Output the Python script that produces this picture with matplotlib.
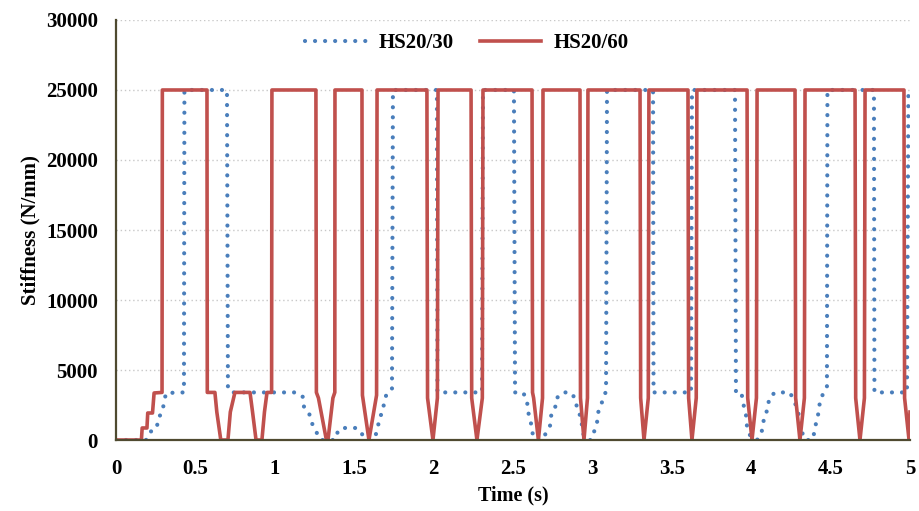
import matplotlib.pyplot as plt

# HS20/30 (dotted blue) - time (s), stiffness (N/mm)
t_30 = [0.0, 0.189, 0.214, 0.258, 0.264, 0.29, 0.302, 0.315, 0.428, 0.431,
        0.699, 0.705, 0.735, 1.14, 1.178, 1.184, 1.215, 1.228, 1.253, 1.272,
        1.29, 1.379, 1.398, 1.417, 1.518, 1.549, 1.574, 1.606, 1.631, 1.65,
        1.656, 1.681, 1.688, 1.706, 1.738, 1.744, 2.021, 2.024, 2.305, 2.311,
        2.506, 2.513, 2.563, 2.588, 2.594, 2.607, 2.62, 2.626, 2.657, 2.683,
        2.708, 2.733, 2.739, 2.765, 2.771, 2.809, 2.865, 2.897, 2.903, 2.929,
        2.935, 2.947, 2.972, 2.991, 3.01, 3.029, 3.035, 3.054, 3.086, 3.092,
        3.382, 3.385, 3.621, 3.627, 3.898, 3.904, 3.936, 3.948, 3.955, 3.967,
        3.974, 3.992, 4.018, 4.037, 4.062, 4.075, 4.081, 4.106, 4.112, 4.15,
        4.244, 4.276, 4.295, 4.307, 4.32, 4.326, 4.345, 4.383, 4.395, 4.402,
        4.414, 4.427, 4.433, 4.458, 4.477, 4.48, 4.773, 4.776, 4.981, 4.99,
        5.0]
k_30 = [0, 0, 570, 860, 1570, 1930, 2640, 3360, 3400, 25000,
        25000, 3600, 3400, 3400, 3070, 2360, 2000, 1290, 860, 290,
        0, 0, 640, 860, 860, 430, 0, 0, 215, 860,
        1570, 2000, 2710, 3360, 3640, 25000, 25000, 3400, 3400, 25000,
        25000, 3400, 3400, 2860, 2070, 1500, 860, 215, 0, 0,
        500, 1000, 1710, 2210, 2930, 3400, 3400, 2860, 2140, 1640,
        930, 215, 0, 0, 570, 1210, 1930, 2500, 3500, 25000,
        25000, 3400, 3400, 25000, 25000, 3400, 3400, 2900, 2290, 1800,
        930, 360, 0, 0, 430, 1000, 1710, 2210, 3000, 3400,
        3400, 2640, 2000, 1430, 790, 215, 0, 0, 430, 860,
        1500, 2070, 2860, 3400, 3790, 25000, 25000, 3400, 3400, 25000,
        25000]

# HS20/60 (solid red)
t_60 = [0.0, 0.16, 0.165, 0.195, 0.2, 0.23, 0.24, 0.29, 0.292,
        0.573, 0.575, 0.623, 0.635, 0.66, 0.705, 0.72, 0.749, 0.844, 0.86,
        0.882, 0.919, 0.935, 0.951, 0.98, 0.982,
        1.259, 1.262, 1.275, 1.325, 1.335, 1.366, 1.378, 1.379,
        1.549, 1.552, 1.593, 1.641, 1.644,
        1.958, 1.962, 1.996, 2.024, 2.028,
        2.236, 2.24, 2.273, 2.307, 2.311,
        2.62, 2.623, 2.63, 2.66, 2.686, 2.689,
        2.922, 2.925, 2.947, 2.969, 2.972,
        3.30, 3.304, 3.325, 3.352, 3.356,
        3.602, 3.606, 3.627, 3.654, 3.658,
        3.974, 3.978, 4.005, 4.033, 4.037,
        4.276, 4.28, 4.307, 4.335, 4.339,
        4.654, 4.658, 4.685, 4.713, 4.717,
        4.962, 4.966, 4.994, 5.0]
k_60 = [0, 0, 860, 860, 1930, 1930, 3360, 3400, 25000,
        25000, 3400, 3400, 2000, 0, 0, 2000, 3400, 3400, 2000,
        0, 0, 2000, 3400, 3400, 25000,
        25000, 3400, 3000, 0, 0, 3000, 3400, 25000,
        25000, 3200, 0, 3200, 25000,
        25000, 3000, 0, 3000, 25000,
        25000, 3000, 0, 3000, 25000,
        25000, 3400, 3000, 0, 3000, 25000,
        25000, 3000, 0, 3000, 25000,
        25000, 3000, 0, 3000, 25000,
        25000, 3000, 0, 3000, 25000,
        25000, 3000, 0, 3000, 25000,
        25000, 3000, 0, 3000, 25000,
        25000, 3000, 0, 3000, 25000,
        25000, 3000, 0, 2000]

x_ticks = [0, 0.5, 1, 1.5, 2, 2.5, 3, 3.5, 4, 4.5, 5]
x_labels = ['0', '0.5', '1', '1.5', '2', '2.5', '3', '3.5', '4', '4.5', '5']
y_ticks = [0, 5000, 10000, 15000, 20000, 25000, 30000]

plt.rcParams['font.family'] = ['Liberation Serif', 'DejaVu Serif']
plt.rcParams['font.weight'] = 'bold'

fig = plt.figure(figsize=(9.19, 5.11), dpi=100)
ax = fig.add_axes([0.1262, 0.1389, 0.864, 0.822])

ax.plot(t_30, k_30, color='#4a7ebb', linewidth=3.0,
        linestyle=(0, (0.01, 2.4)), dash_capstyle='round',
        solid_capstyle='round', label='HS20/30')
ax.plot(t_60, k_60, color='#c0504d', linewidth=2.6, label='HS20/60')

ax.set_xlim(0, 5)
ax.set_ylim(0, 30000)
ax.set_xticks(x_ticks)
ax.set_xticklabels(x_labels)
ax.set_yticks(y_ticks)
ax.tick_params(length=0, labelsize=15)
ax.tick_params(axis='x', pad=14)
ax.tick_params(axis='y', pad=13)
for lab in ax.get_xticklabels() + ax.get_yticklabels():
    lab.set_fontweight('bold')

ax.grid(axis='y', color='#c8c8c8', linestyle=(0, (1, 2)), linewidth=1)
ax.set_axisbelow(True)

for side in ['top', 'right']:
    ax.spines[side].set_visible(False)
for side in ['left', 'bottom']:
    ax.spines[side].set_color('#4f4a30')
    ax.spines[side].set_linewidth(1.6)

ax.set_xlabel('Time (s)', fontsize=14.5, fontweight='bold', labelpad=4)
ax.set_ylabel('Stiffness (N/mm)', fontsize=15, fontweight='bold', labelpad=4)

ax.legend(loc='upper center', bbox_to_anchor=(0.442, 1.013), ncol=2, frameon=False,
          handlelength=2.9, handletextpad=0.6, columnspacing=1.3,
          prop={'weight': 'bold', 'size': 15})

fig.savefig('out.png', dpi=100)
